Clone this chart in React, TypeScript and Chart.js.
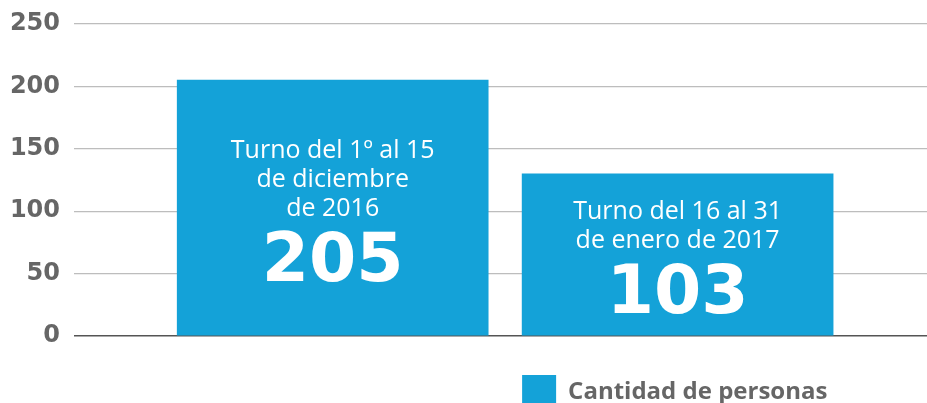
import React, { useEffect, useRef } from "react";
import { Chart, registerables } from "chart.js";

Chart.register(...registerables);

// ---- data ----
const categories: string[][] = [
  ["Turno del 1º al 15", "de diciembre", "de 2016"],
  ["Turno del 16 al 31", "de enero de 2017"],
];
const positions = [1, 2];
const values = [205, 130];
const valueLabels = ["205", "103"];
const seriesName = "Cantidad de personas";
const yMin = 0;
const yMax = 250;
const yStep = 50;

// ---- style ----
const BAR_COLOR = "#14a2d8";
const TEXT_GRAY = "#666666";

const barTextPlugin = {
  id: "barText",
  afterDatasetsDraw(chart: any) {
    const ctx = chart.ctx;
    const meta = chart.getDatasetMeta(0);
    meta.data.forEach((bar: any, i: number) => {
      const lines = categories[i];
      const lineH = 29;
      const capH = 18;
      const numGap = 65;
      const blockH = capH + (lines.length - 1) * lineH + numGap;
      const mid = (bar.y + bar.base) / 2 + 3;
      const top = mid - blockH / 2;
      ctx.save();
      ctx.fillStyle = "#ffffff";
      ctx.textAlign = "center";
      ctx.textBaseline = "alphabetic";
      ctx.font = "25px 'Open Sans'";
      lines.forEach((l, j) => ctx.fillText(l, bar.x, top + capH + j * lineH));
      ctx.font = "bold 68px 'DejaVu Sans'";
      ctx.fillText(valueLabels[i], bar.x, top + blockH);
      ctx.restore();
    });
  },
};

const legendPlugin = {
  id: "customLegend",
  afterDraw(chart: any) {
    const ctx = chart.ctx;
    const meta = chart.getDatasetMeta(0);
    const bar: any = meta.data[1];
    const left = bar.x - bar.width / 2;
    const top = chart.chartArea.bottom + 39;
    ctx.save();
    ctx.fillStyle = BAR_COLOR;
    ctx.fillRect(left, top, 34, 34);
    ctx.fillStyle = TEXT_GRAY;
    ctx.font = "bold 24px 'Open Sans'";
    ctx.textAlign = "left";
    ctx.textBaseline = "alphabetic";
    ctx.fillText(chart.data.datasets[0].label, left + 46, top + 24);
    ctx.restore();
  },
};

export default function App() {
  const ref = useRef<HTMLCanvasElement | null>(null);

  useEffect(() => {
    if (!ref.current) return;
    const chart = new Chart(ref.current, {
      type: "bar",
      data: {
        datasets: [
          {
            label: seriesName,
            data: positions.map((x, i) => ({ x, y: values[i] })) as any,
            backgroundColor: BAR_COLOR,
            barThickness: 311,
          },
        ],
      },
      options: {
        animation: false,
        responsive: false,
        layout: { padding: { top: 24, bottom: 79, left: 0, right: 0 } },
        plugins: {
          legend: { display: false },
          tooltip: { enabled: false },
        },
        scales: {
          x: {
            type: "linear",
            display: false,
            offset: false,
            grid: { offset: false },
            min: 0.25,
            max: 2.723,
          },
          y: {
            min: yMin,
            max: yMax,
            ticks: {
              stepSize: yStep,
              color: TEXT_GRAY,
              font: { family: "'DejaVu Sans'", weight: "bold", size: 24 },
              padding: 14,
            },
            grid: {
              color: (c: any) => (c.tick && c.tick.value === 0 ? "#555555" : "#bdbdbd"),
              lineWidth: (c: any) => (c.tick && c.tick.value === 0 ? 1.6 : 1.2),
              drawTicks: false,
            },
            border: { display: false },
            afterFit: (s: any) => {
              s.width = 74;
              s.paddingTop = 0;
              s.paddingBottom = 0;
            },
          },
        },
      } as any,
      plugins: [barTextPlugin, legendPlugin],
    });
    return () => chart.destroy();
  }, []);

  return (
    <div style={{ position: "fixed", left: 0, top: 0 }}>
      <canvas ref={ref} width={927} height={415} style={{ display: "block" }} />
    </div>
  );
}
